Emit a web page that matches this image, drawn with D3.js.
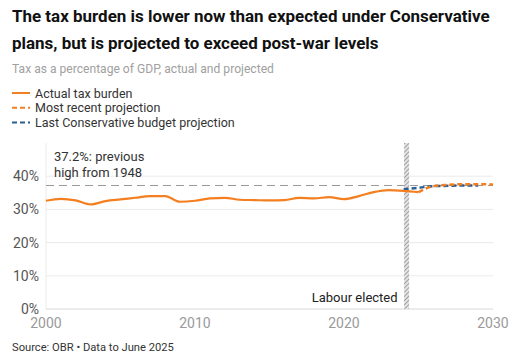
<!DOCTYPE html>
<html>
<head>
<meta charset="utf-8">
<script src="https://cdn.jsdelivr.net/npm/d3@7"></script>
<style>
  body { margin: 0; background: #fff; }
  svg text { font-family: Roboto, "Open Sans", sans-serif; }
</style>
</head>
<body>
<svg id="chart" width="527" height="363"></svg>
<script>
// data
const actualYears = [2000, 2001, 2002, 2003, 2004, 2005, 2006, 2007, 2008, 2009, 2010, 2011, 2012,
  2013, 2014, 2015, 2016, 2017, 2018, 2019, 2020, 2021, 2022, 2023, 2024, 2025];
const actualValues = [32.6, 33.2, 32.7, 31.5, 32.5, 33.0, 33.5, 34.0, 34.0, 32.3, 32.6, 33.3, 33.5,
  32.9, 32.8, 32.7, 32.8, 33.5, 33.3, 33.7, 33.1, 34.0, 35.2, 35.8, 35.6, 35.2];
const recentYears = [2025, 2026, 2027, 2028, 2029, 2030];
const recentValues = [35.2, 37.0, 37.4, 37.6, 37.6, 37.5];
const conservativeYears = [2024, 2025, 2026, 2027, 2028, 2029];
const conservativeValues = [36.1, 36.5, 37.0, 37.1, 37.2, 37.2];
const previousHigh = 37.2;
const electionYear = 2024.2;
const yTicks = [0, 10, 20, 30, 40];
const xTicks = [2000, 2010, 2020, 2030];

const ORANGE = "#f47f20", BLUE = "#2a5f93";

const svg = d3.select("#chart");
const margin = { left: 46, right: 34, top: 143, bottom: 54 };
const W = 527, H = 363;

let x = d3.scaleLinear().domain([2000, 2030]).range([margin.left, W - margin.right]);
let y = d3.scaleLinear().domain([0, 50]).range([H - margin.bottom, margin.top]);

// scale a text's font size so it spans a given width
function fit(sel, width) {
  let size = parseFloat(sel.style("font-size"));
  let len = sel.node().getComputedTextLength();
  sel.style("font-size", (size * width / len).toFixed(2) + "px");
  return sel;
}

// title + subtitle
let t1 = svg.append("text").attr("x", 12).attr("y", 22)
  .style("font-size", "17px").style("font-weight", "700").attr("fill", "#111")
  .text("The tax burden is lower now than expected under Conservative");
fit(t1, 478);
svg.append("text").attr("x", 12).attr("y", 49)
  .style("font-size", t1.style("font-size")).style("font-weight", "700").attr("fill", "#111")
  .text("plans, but is projected to exceed post-war levels");
fit(svg.append("text").attr("x", 12).attr("y", 73)
  .style("font-size", "12px").attr("fill", "#a0a0a0")
  .text("Tax as a percentage of GDP, actual and projected"), 262);

// legend
const legend = [
  { label: "Actual tax burden", color: ORANGE, dash: null },
  { label: "Most recent projection", color: ORANGE, dash: "5,3" },
  { label: "Last Conservative budget projection", color: BLUE, dash: "5,3" }
];
legend.forEach(function(d, i) {
  let ly = 93 + i * 14.7;
  svg.append("line").attr("x1", 12).attr("x2", 30).attr("y1", ly).attr("y2", ly)
    .attr("stroke", d.color).attr("stroke-width", 2)
    .attr("stroke-dasharray", d.dash);
  svg.append("text").attr("x", 35).attr("y", ly + 4.5)
    .style("font-size", "12.5px").attr("fill", "#333").text(d.label);
});

// grid
svg.append("g").selectAll("line").data(yTicks).enter().append("line")
  .attr("x1", x(2000)).attr("x2", x(2030))
  .attr("y1", d => y(d)).attr("y2", d => y(d))
  .attr("stroke", d => d === 0 ? "#d8d8d8" : "#ebebeb").attr("stroke-width", 1);
svg.append("line").attr("x1", x(2000)).attr("x2", x(2000))
  .attr("y1", y(50)).attr("y2", y(0)).attr("stroke", "#ebebeb");

// y labels
svg.append("g").selectAll("text").data(yTicks).enter().append("text")
  .attr("x", 39).attr("y", d => y(d) + 5).attr("text-anchor", "end")
  .style("font-size", "14px").attr("fill", "#555").text(d => d + "%");

// x labels
svg.append("g").selectAll("text").data(xTicks).enter().append("text")
  .attr("x", d => x(d)).attr("y", 328).attr("text-anchor", "middle")
  .style("font-size", "14px").attr("fill", "#9a9a9a").text(d => d);

// previous high reference
svg.append("line").attr("x1", x(2000)).attr("x2", x(2030))
  .attr("y1", y(previousHigh)).attr("y2", y(previousHigh))
  .attr("stroke", "#999").attr("stroke-width", 1).attr("stroke-dasharray", "8,5");
svg.append("text").attr("x", 54).attr("y", 161)
  .style("font-size", "13px").attr("fill", "#333").text("37.2%: previous");
svg.append("text").attr("x", 54).attr("y", 177)
  .style("font-size", "13px").attr("fill", "#333").text("high from 1948");

// hatched election marker
const defs = svg.append("defs");
const pat = defs.append("pattern").attr("id", "hatch").attr("patternUnits", "userSpaceOnUse")
  .attr("width", 3).attr("height", 3).attr("patternTransform", "rotate(45)");
pat.append("rect").attr("width", 3).attr("height", 3).attr("fill", "#e4e4e4");
pat.append("line").attr("x1", 0).attr("x2", 0).attr("y1", 0).attr("y2", 3)
  .attr("stroke", "#888").attr("stroke-width", 1.5);
svg.append("rect").attr("x", x(electionYear) - 2.5).attr("y", y(50))
  .attr("width", 5).attr("height", y(0) - y(50)).attr("fill", "url(#hatch)");
svg.append("text").attr("x", x(electionYear) - 9).attr("y", 302).attr("text-anchor", "end")
  .style("font-size", "13px").attr("fill", "#222").text("Labour elected");

// lines
const line = d3.line().x(d => x(d[0])).y(d => y(d[1])).curve(d3.curveMonotoneX);
svg.append("path").datum(d3.zip(conservativeYears, conservativeValues))
  .attr("d", line).attr("fill", "none").attr("stroke", BLUE)
  .attr("stroke-width", 2.5).attr("stroke-dasharray", "5,3");
svg.append("path").datum(d3.zip(recentYears, recentValues))
  .attr("d", line).attr("fill", "none").attr("stroke", ORANGE)
  .attr("stroke-width", 2.5).attr("stroke-dasharray", "5,3");
svg.append("path").datum(d3.zip(actualYears, actualValues))
  .attr("d", line).attr("fill", "none").attr("stroke", ORANGE)
  .attr("stroke-width", 2.2);

// source
fit(svg.append("text").attr("x", 12).attr("y", 351)
  .style("font-size", "11px").attr("fill", "#333")
  .text("Source: OBR \u2022 Data to June 2025"), 162);
</script>
</body>
</html>
